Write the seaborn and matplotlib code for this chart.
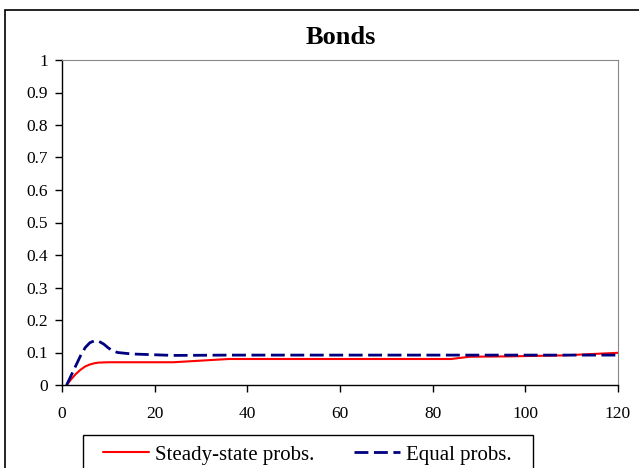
import numpy as np
import pandas as pd
import seaborn as sns
import matplotlib.pyplot as plt
from matplotlib.patches import Rectangle

# horizon (months) and the two series
x_steady = [1, 2, 3, 4, 5, 6, 7, 8, 10, 12, 24, 36, 48, 60, 72, 84, 88, 96, 108, 120]
steady = [0, 0.018, 0.034, 0.047, 0.057, 0.063, 0.067, 0.069, 0.07, 0.07, 0.07,
          0.08, 0.08, 0.08, 0.08, 0.08, 0.087, 0.088, 0.091, 0.099]
x_equal = [1, 2, 3, 4, 5, 6, 7, 8, 9, 10, 11, 12, 14, 16, 18, 20, 24, 36, 48, 60, 72, 84, 96, 108, 120]
equal = [0, 0.03, 0.06, 0.09, 0.115, 0.13, 0.136, 0.134, 0.126, 0.114, 0.105, 0.1,
         0.097, 0.095, 0.094, 0.093, 0.091, 0.092, 0.092, 0.092, 0.092, 0.092, 0.092, 0.092, 0.092]
labels = ['Steady-state probs.', 'Equal probs.']

df = pd.concat([
    pd.DataFrame({'h': x_steady, 'p': steady, 'series': labels[0]}),
    pd.DataFrame({'h': x_equal, 'p': equal, 'series': labels[1]}),
])

sns.set_style("ticks")
plt.rcParams['font.family'] = ['Liberation Serif', 'DejaVu Serif']
plt.rcParams['text.color'] = 'black'

fig = plt.figure(figsize=(6.39, 4.68), dpi=100)
ax = fig.add_axes([62/639, 1-385/468, (618-62)/639, (385-60)/468])

dash = (5, 2)
sns.lineplot(data=df, x='h', y='p', hue='series', style='series',
             palette={labels[0]: '#ff0000', labels[1]: '#000080'},
             dashes={labels[0]: '', labels[1]: dash},
             ax=ax, legend=False, sort=False)
ax.lines[0].set_linewidth(1.5)
ax.lines[1].set_linewidth(2.0)

ax.set_xlim(0, 120)
ax.set_ylim(0, 1)
ax.set_xticks(np.arange(0, 121, 20))
ax.set_yticks(np.arange(0, 1.01, 0.1))
ax.set_yticklabels(['0'] + ['%.1f' % v for v in np.arange(0.1, 1.0, 0.1)] + ['1'])
ax.tick_params(labelsize=12.5, length=5, width=1, colors='black')
ax.tick_params(axis='x', pad=10)
ax.tick_params(axis='y', pad=5)
ax.set_xlabel('')
ax.set_ylabel('')
for side in ['top', 'right']:
    ax.spines[side].set_visible(True)
    ax.spines[side].set_color('#888888')
for side in ['left', 'bottom']:
    ax.spines[side].set_color('black')
    ax.spines[side].set_linewidth(1)

fig.text(341/639, 1-37/468, 'Bonds', ha='center', va='center',
         fontsize=19, fontweight='bold')

# legend entries without frame; the box is drawn separately
handles = [plt.Line2D([], [], color='#ff0000', lw=1.5),
           plt.Line2D([], [], color='#000080', lw=2.0, dashes=dash)]
leg = fig.legend(handles, labels, loc='upper left', ncol=2,
                 bbox_to_anchor=(103/639, 1-445/468), borderaxespad=0,
                 fontsize=15, frameon=False, handlelength=2.2,
                 columnspacing=1.9, borderpad=0, handletextpad=0.3)
fig.patches.append(Rectangle((83/639, -0.1), (533-83)/639, 0.1 + 1-435/468,
                             transform=fig.transFigure, fill=False,
                             edgecolor='black', lw=1))

fig.patches.append(Rectangle((5/639, -0.2), 1.2, 1.2 - 10/468, transform=fig.transFigure,
                             fill=False, edgecolor='black', lw=1.2))

fig.savefig('out.png', dpi=100)
